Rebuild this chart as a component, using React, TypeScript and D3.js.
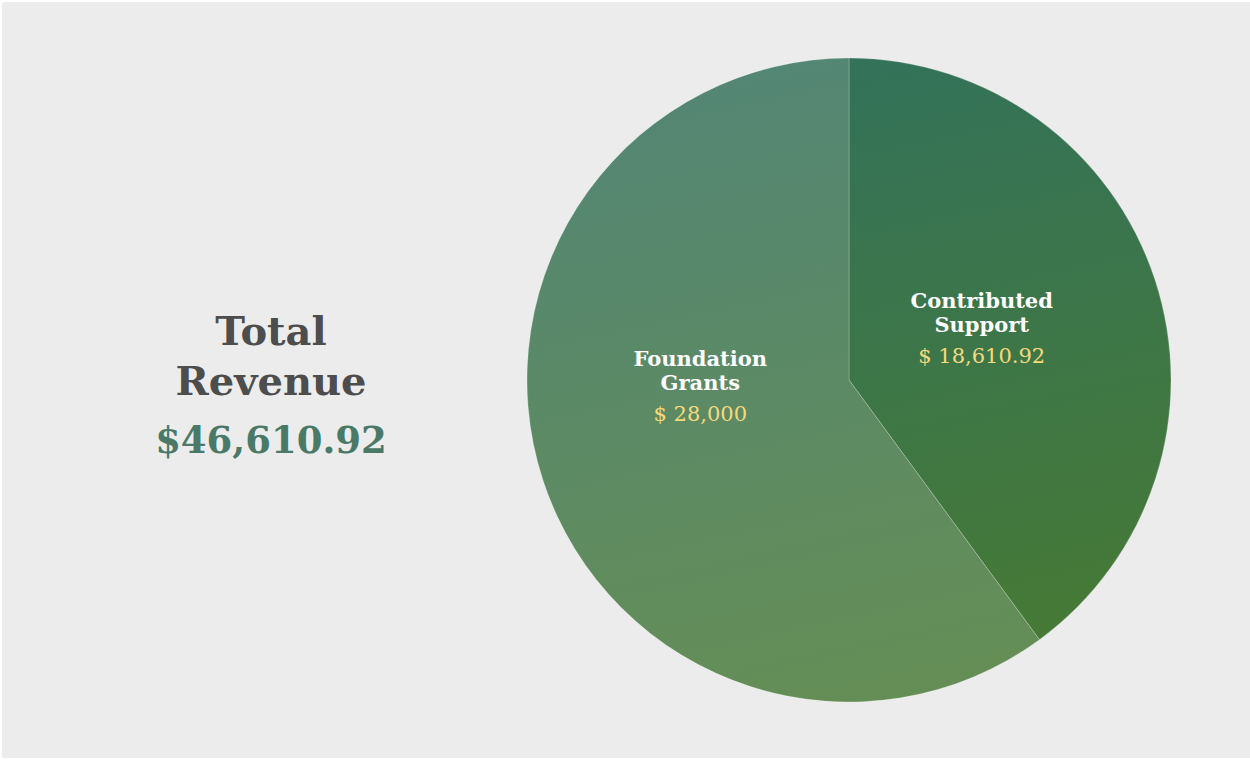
import React from 'react'
import * as d3 from 'd3'

// revenue categories and amounts
const categories = ['Contributed Support', 'Foundation Grants']
const labelLines = [['Contributed', 'Support'], ['Foundation', 'Grants']]
const amounts = [18610.92, 28000]
const valueLabels = ['$ 18,610.92', '$ 28,000']
const totalLabel = '$46,610.92'

const width = 1250
const height = 759
const serif = '"DejaVu Serif", Georgia, serif'

// gradient stops per slice (top -> bottom)
const sliceColors = [
  ['#33725b', '#477a34'],
  ['#538674', '#658e55'],
]

export default function App() {
  const cx = 849
  const cy = 380
  const radius = 322

  const pie = d3
    .pie<number>()
    .sort(null)
    .value((d) => d)
  const arcs = pie(amounts)

  const arc = d3.arc<d3.PieArcDatum<number>>().innerRadius(0).outerRadius(radius)
  const labelArc = d3
    .arc<d3.PieArcDatum<number>>()
    .innerRadius(radius * 0.9)
    .outerRadius(radius * 0.9)

  // small nudges so the label blocks sit where the original put them
  const nudge = [
    [-5, -8],
    [-11, -40],
  ]

  return (
    <div style={{ position: 'absolute', left: 0, top: 0 }}>
      <svg width={width} height={height} style={{ display: 'block' }}>
        <defs>
          {sliceColors.map((c, i) => (
            <linearGradient
              key={i}
              id={`slice-grad-${i}`}
              gradientUnits="userSpaceOnUse"
              x1={-70}
              y1={-radius}
              x2={70}
              y2={radius}
            >
              <stop offset="0%" stopColor={c[0]} />
              <stop offset="100%" stopColor={c[1]} />
            </linearGradient>
          ))}
        </defs>
        <rect x={0} y={0} width={width} height={height} fill="#ffffff" />
        <rect x={2} y={2} width={width - 2} height={height - 3} fill="#ececec" />

        {/* left summary */}
        <g textAnchor="middle" fontFamily={serif} fontWeight="bold">
          <text x={271} y={345} fontSize={40} fill="#4d4d4d">
            Total
          </text>
          <text x={271} y={395} fontSize={40} fill="#4d4d4d">
            Revenue
          </text>
          <text x={271} y={453} fontSize={37} fill="#4a7a67">
            {totalLabel}
          </text>
        </g>

        {/* pie */}
        <g transform={`translate(${cx},${cy})`}>
          {arcs.map((a, i) => (
            <path
              key={categories[i]}
              d={arc(a) || ''}
              fill={`url(#slice-grad-${i})`}
              stroke="rgba(255,255,255,0.22)"
              strokeWidth={1}
            />
          ))}
          {arcs.map((a, i) => {
            const [lx, ly] = labelArc.centroid(a)
            const x = lx * 0.5 + nudge[i][0]
            const y = ly * 0.5 + nudge[i][1]
            return (
              <g key={categories[i]} transform={`translate(${x},${y})`} textAnchor="middle" fontFamily={serif}>
                <text y={-19} fontSize={21} fontWeight="bold" fill="#ffffff">
                  {labelLines[i][0]}
                </text>
                <text y={5} fontSize={21} fontWeight="bold" fill="#ffffff">
                  {labelLines[i][1]}
                </text>
                <text y={36} fontSize={21} fill="#f6d97c">
                  {valueLabels[i]}
                </text>
              </g>
            )
          })}
        </g>
      </svg>
    </div>
  )
}
